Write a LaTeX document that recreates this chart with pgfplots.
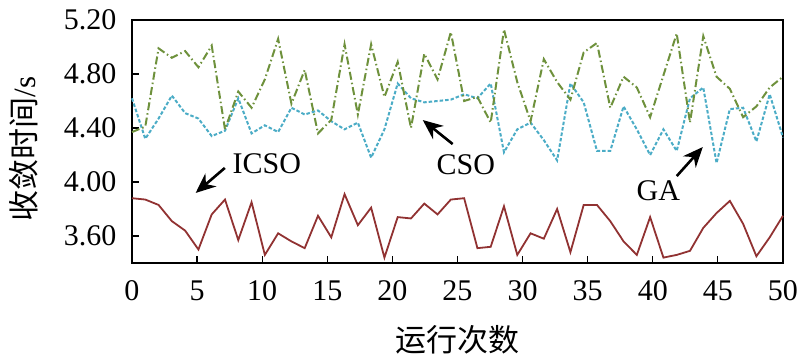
\documentclass[border=0pt]{standalone}
\usepackage{fontspec}
\setmainfont{Liberation Serif}
\newfontfamily\cjk{Noto Sans CJK SC}
\usepackage{pgfplots}
\pgfplotsset{compat=1.18}
\usepackage{pgfplotstable}
\usetikzlibrary{arrows.meta}
\definecolor{icso}{RGB}{145,50,50}
\definecolor{cso}{RGB}{75,172,198}
\definecolor{ga}{RGB}{110,145,60}
\pgfplotstableread{
icso cso ga
3.88 4.62 4.37
3.87 4.32 4.41
3.83 4.47 4.99
3.71 4.64 4.92
3.64 4.51 4.97
3.50 4.47 4.85
3.76 4.34 5.01
3.87 4.38 4.39
3.57 4.62 4.67
3.85 4.36 4.55
3.46 4.42 4.76
3.62 4.37 5.06
3.56 4.55 4.58
3.51 4.50 4.83
3.75 4.53 4.36
3.59 4.45 4.46
3.91 4.39 5.02
3.68 4.44 4.50
3.81 4.18 5.02
3.44 4.39 4.63
3.74 4.73 4.89
3.73 4.62 4.40
3.84 4.59 4.95
3.76 4.60 4.76
3.87 4.61 5.11
3.88 4.65 4.60
3.51 4.62 4.63
3.52 4.73 4.44
3.82 4.22 5.13
3.46 4.39 4.74
3.62 4.44 4.45
3.58 4.31 4.91
3.80 4.16 4.74
3.48 4.73 4.61
3.83 4.59 4.96
3.83 4.23 5.03
3.71 4.23 4.55
3.56 4.56 4.78
3.46 4.39 4.70
3.74 4.20 4.48
3.44 4.39 4.79
3.46 4.23 5.10
3.49 4.62 4.44
3.66 4.70 5.08
3.77 4.14 4.78
3.86 4.54 4.69
3.69 4.55 4.48
3.45 4.30 4.56
3.59 4.65 4.70
3.75 4.33 4.78
}\data
\begin{document}
\begin{tikzpicture}
\begin{axis}[
  at={(0,0)}, anchor=south west,
  scale only axis, width=651pt, height=243pt,
  xmin=0, xmax=50, ymin=3.4, ymax=5.2,
  xtick={0,5,...,50}, ytick={3.6,4.0,4.4,4.8,5.2},
  tick pos=left, tick align=inside, major tick length=7pt,
  axis line style={line width=1.8pt},
  tick style={line width=1.2pt, black},
  tick label style={font=\fontsize{30}{36}\selectfont},
  /pgf/number format/assume math mode=true,
  yticklabel style={/pgf/number format/.cd, fixed, fixed zerofill, precision=2, /tikz/.cd, xshift=-12pt},
  xticklabel style={yshift=-14pt},
  xlabel={\cjk 运行次数},
  ylabel={{\cjk 收敛时间}/s},
  label style={font=\fontsize{31}{36}\selectfont},
  xlabel style={at={(axis description cs:0.5,-0.317)}, anchor=center},
  ylabel style={at={(axis description cs:-0.166,0.47)}, anchor=center},
  clip=false,
]
\addplot[color=icso, line width=1.8pt] table[x expr=\coordindex*50/49, y=icso] {\data};
\addplot[color=cso, line width=2pt, dash pattern=on 3.5pt off 2pt] table[x expr=\coordindex*50/49, y=cso] {\data};
\addplot[color=ga, line width=2pt, dash pattern=on 8pt off 3pt on 1.5pt off 3pt] table[x expr=\coordindex*50/49, y=ga] {\data};
\node[font=\fontsize{30}{36}\selectfont] at (axis cs:10.35,4.137) {ICSO};
\draw[line width=2.6pt, -{Stealth[length=20pt,width=17pt]}] (axis cs:7.13,4.104) -- (axis cs:4.89,3.919);
\node[font=\fontsize{30}{36}\selectfont] at (axis cs:25.64,4.126) {CSO};
\draw[line width=2.6pt, -{Stealth[length=20pt,width=17pt]}] (axis cs:24.63,4.281) -- (axis cs:22.33,4.459);
\node[font=\fontsize{30}{36}\selectfont] at (axis cs:40.43,3.933) {GA};
\draw[line width=2.6pt, -{Stealth[length=20pt,width=17pt]}] (axis cs:41.84,4.044) -- (axis cs:43.84,4.259);
\end{axis}
\path (-132pt,-101pt) rectangle (674pt,263pt);
\end{tikzpicture}
\end{document}
